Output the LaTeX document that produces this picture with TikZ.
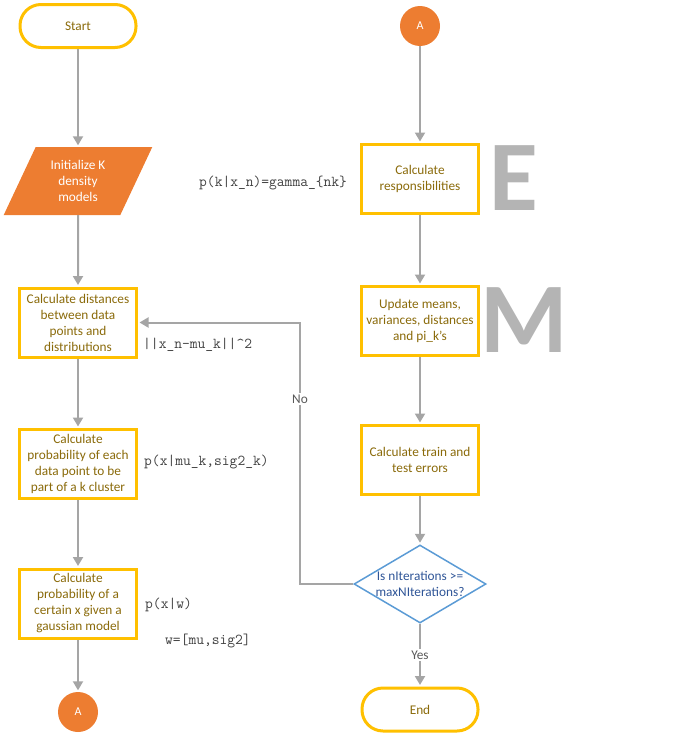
\documentclass[tikz,border=0pt]{standalone}
\usepackage{fontspec}
\setmainfont{Carlito}
\usetikzlibrary{shapes.geometric,arrows.meta}
\definecolor{gold}{HTML}{FFC000}
\definecolor{goldtext}{HTML}{8A6A0A}
\definecolor{orng}{HTML}{ED7D31}
\definecolor{conncol}{HTML}{A5A5A5}
\definecolor{blu}{HTML}{5B9BD5}
\definecolor{blutext}{HTML}{2F5597}
\definecolor{annot}{HTML}{404040}
\definecolor{labcol}{HTML}{595959}
\definecolor{bigl}{HTML}{B4B4B4}
\tikzset{
  bodyfont/.style={font=\fontsize{13.3}{16}\selectfont},
  term/.style={draw=gold, line width=3pt, rounded corners=21pt, minimum width=116pt, minimum height=43pt, inner sep=0pt, text=goldtext, bodyfont},
  proc/.style={draw=gold, line width=3pt, minimum width=117pt, minimum height=69pt, inner sep=0pt, align=center, text=goldtext, bodyfont},
  inout/.style={trapezium, trapezium left angle=63.4, trapezium right angle=116.6, trapezium stretches=true, minimum width=150pt, minimum height=68pt, inner sep=0pt, fill=orng, text=white, align=center, bodyfont},
  conncirc/.style={circle, fill=orng, minimum size=40pt, inner sep=0pt, text=white, font=\fontsize{12}{14}\selectfont},
  decision/.style={diamond, aspect=1.7, draw=blu, line width=1.5pt, minimum width=132pt, minimum height=78pt, inner sep=-3pt, align=center, text=blutext, bodyfont},
  flow/.style={draw=conncol, line width=2pt, shorten >=1.5pt, -{Triangle[width=10pt,length=9pt]}},
  annotation/.style={anchor=west, inner sep=0pt, text=annot, font=\ttfamily\fontsize{15.1}{17}\selectfont},
  biglet/.style={text=bigl, inner sep=0pt, font=\fontsize{100}{100}\selectfont\bfseries},
  flowlab/.style={fill=white, inner sep=2pt, text=labcol, bodyfont}
}
\begin{document}
\begin{tikzpicture}[x=1pt,y=-1pt]
\useasboundingbox (0,0) rectangle (691,736);
% left column
\node[term] (start) at (78,26) {Start};
\node[inout] (init) at (78,181) {Initialize K\\density\\models};
\node[proc] (dist) at (78,322.5) {Calculate distances\\between data\\points and\\distributions};
\node[proc] (prob) at (78,464) {Calculate\\probability of each\\data point to be\\part of a k cluster};
\node[proc] (gauss) at (78,603.5) {Calculate\\probability of a\\certain x given a\\gaussian model};
\node[conncirc] (a1) at (78,712) {A};
% right column
\node[conncirc] (a2) at (420,26) {A};
\node[proc] (resp) at (420,179) {Calculate\\responsibilities};
\node[proc] (upd) at (420,321) {Update means,\\variances, distances\\and pi\_k's};
\node[proc] (err) at (420,460) {Calculate train and\\test errors};
\node[decision] (dec) at (420,584) {Is nIterations >=\\maxNIterations?};
\node[term] (end) at (420,709.5) {End};
% big letters
\node[biglet] (eletter) at (514,178) {E};
\node[biglet] (mletter) at (524,320) {M};
% annotations
\node[annotation] (ann1) at (199,183) {p(k|x\_n)=gamma\_\{nk\}};
\node[annotation] (ann2) at (143,345) {||x\_n-mu\_k||\textasciicircum 2};
\node[annotation] (ann3) at (144,462) {p(x|mu\_k,sig2\_k)};
\node[annotation] (ann4) at (145,605) {p(x|w)};
\node[annotation] (ann5) at (165,641) {w=[mu,sig2]};
% connectors
\draw[flow] (start) -- (init);
\draw[flow] (init) -- (dist);
\draw[flow] (dist) -- (prob);
\draw[flow] (prob) -- (gauss);
\draw[flow] (gauss) -- (a1);
\draw[flow] (a2) -- (resp);
\draw[flow] (resp) -- (upd);
\draw[flow] (upd) -- (err);
\draw[flow] (err) -- (dec);
\draw[flow] (dec) -- node[flowlab] (yeslab) {Yes} (end);
\coordinate (loopx) at (300,584);
\draw[flow] (dec.west) -- (loopx) |- node[flowlab, pos=0.354] (nolab) {No} (dist.east);
\end{tikzpicture}
\end{document}
